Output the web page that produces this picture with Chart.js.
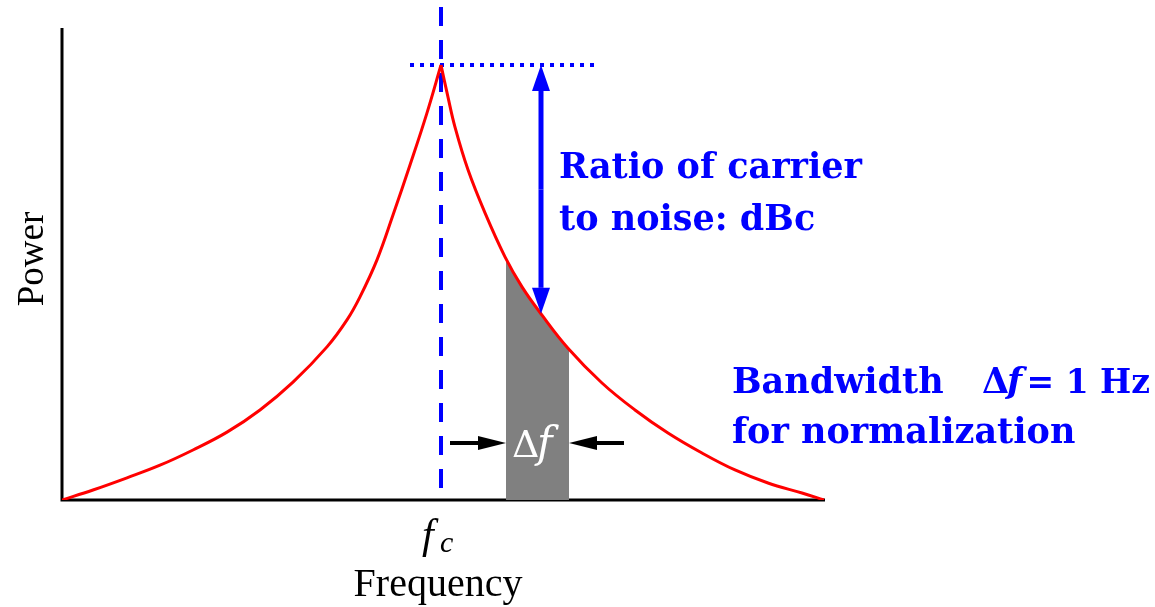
<!DOCTYPE html>
<html>
<head>
<meta charset="utf-8">
<script src="https://cdn.jsdelivr.net/npm/chart.js@4.4.1/dist/chart.umd.min.js"></script>
<style>
  html, body { margin: 0; padding: 0; background: #fff; }
  canvas { display: block; }
</style>
</head>
<body>
<canvas id="noiseChart" width="1155" height="607"></canvas>
<script>
// frequency offset from the carrier (fc = 0), arbitrary units; power in % of carrier peak
const leftFreq = [-3.79, -3.48, -3.14, -2.81, -2.48, -2.14, -1.81, -1.48, -1.14, -0.94, -0.81, -0.64, -0.48, -0.31, -0.14, 0];
const leftPower = [0, 2.3, 5.1, 8.0, 11.5, 15.6, 20.7, 27.1, 35.2, 41.4, 46.7, 55.2, 65.5, 77.0, 89.0, 100];
const rightFreq = [0, 0.07, 0.14, 0.27, 0.44, 0.64, 0.81, 1.01, 1.27, 1.61, 1.94, 2.27, 2.61, 2.94, 3.27, 3.61, 3.83];
const rightPower = [100, 92.6, 85.7, 75.9, 66.0, 55.9, 49.0, 42.5, 34.9, 26.9, 20.7, 15.4, 10.8, 6.9, 3.9, 1.6, 0];

// the 1 Hz slice that is shaded grey
const bandFreq = [0.65, 0.81, 1.01, 1.28];
const bandPower = [55.6, 49.0, 42.5, 34.7];

// guide lines
const carrierFreq = 0;
const carrierLineTop = 113.3;
const peakLineFreq = [-0.31, 1.56];
const peakPower = 100;

// dBc arrow and the two delta-f arrows
const dbcArrowFreq = 1.0;
const dbcArrowPower = [100, 42.8];
const bandArrowPower = 13.1;
const bandArrowLeft = [0.09, 0.65];
const bandArrowRight = [1.83, 1.28];

const toPoints = (xs, ys) => xs.map((x, i) => ({ x: x, y: ys[i] }));

function arrow(ctx, x1, y1, x2, y2, headLen, headHalf, width, color) {
    const ang = Math.atan2(y2 - y1, x2 - x1);
    const bx = x2 - Math.cos(ang) * headLen;
    const by = y2 - Math.sin(ang) * headLen;
    ctx.strokeStyle = color;
    ctx.fillStyle = color;
    ctx.lineWidth = width;
    ctx.lineCap = 'butt';
    ctx.beginPath();
    ctx.moveTo(x1, y1);
    ctx.lineTo(bx, by);
    ctx.stroke();
    ctx.beginPath();
    ctx.moveTo(x2, y2);
    ctx.lineTo(bx - Math.sin(ang) * headHalf, by + Math.cos(ang) * headHalf);
    ctx.lineTo(bx + Math.sin(ang) * headHalf, by - Math.cos(ang) * headHalf);
    ctx.closePath();
    ctx.fill();
}

const diagramPlugin = {
    id: 'diagram',
    beforeDatasetsDraw(chart) {
        const ctx = chart.ctx;
        const a = chart.chartArea;
        ctx.save();
        ctx.strokeStyle = '#000';
        ctx.lineWidth = 3;
        ctx.beginPath();
        ctx.moveTo(a.left, a.top);
        ctx.lineTo(a.left, a.bottom);
        ctx.lineTo(a.right, a.bottom);
        ctx.stroke();
        ctx.restore();
    },
    afterDatasetsDraw(chart) {
        const ctx = chart.ctx;
        const xs = chart.scales.x;
        const ys = chart.scales.y;
        ctx.save();

        // double arrow between carrier peak and noise level
        const ax = xs.getPixelForValue(dbcArrowFreq);
        const top = ys.getPixelForValue(dbcArrowPower[0]);
        const bot = ys.getPixelForValue(dbcArrowPower[1]);
        const mid = (top + bot) / 2;
        arrow(ctx, ax, mid, ax, top, 26, 9, 5, '#0000ff');
        arrow(ctx, ax, mid, ax, bot, 26, 9, 5, '#0000ff');

        // delta-f arrows
        const ay = ys.getPixelForValue(bandArrowPower);
        arrow(ctx, xs.getPixelForValue(bandArrowLeft[0]), ay, xs.getPixelForValue(bandArrowLeft[1]), ay, 28, 7, 4, '#000');
        arrow(ctx, xs.getPixelForValue(bandArrowRight[0]), ay, xs.getPixelForValue(bandArrowRight[1]), ay, 28, 7, 4, '#000');

        // delta f inside the band
        ctx.fillStyle = '#fff';
        ctx.textBaseline = 'alphabetic';
        ctx.textAlign = 'left';
        ctx.font = '38px "DejaVu Serif"';
        ctx.fillText('\u0394', 512, 457);
        ctx.font = 'italic 42px "DejaVu Serif"';
        ctx.fillText('f', 537, 457);

        // axis titles
        ctx.fillStyle = '#000';
        ctx.font = '40px "Liberation Serif"';
        ctx.textAlign = 'center';
        ctx.fillText('Frequency', 438, 596);
        ctx.save();
        ctx.translate(43, 259);
        ctx.rotate(-Math.PI / 2);
        ctx.font = '37px "Liberation Serif"';
        ctx.fillText('Power', 0, 0);
        ctx.restore();

        // f_c under the carrier
        ctx.textAlign = 'left';
        ctx.font = 'italic 42px "Liberation Serif"';
        ctx.fillText('f', 422, 548);
        ctx.font = 'italic 30px "Liberation Serif"';
        ctx.fillText('c', 440, 552);

        // blue notes
        ctx.fillStyle = '#0000ff';
        ctx.font = 'bold 35px "DejaVu Serif"';
        ctx.fillText('Ratio of carrier', 559, 178);
        ctx.fillText('to noise: dBc', 559, 230);
        ctx.fillText('Bandwidth', 732, 393);
        ctx.fillText('for normalization', 732, 443);
        ctx.fillText('\u0394', 982, 393);
        ctx.font = 'bold italic 35px "DejaVu Serif"';
        ctx.fillText('f', 1007, 393);
        ctx.font = 'bold 33px "DejaVu Serif"';
        ctx.textAlign = 'right';
        ctx.fillText('= 1 Hz', 1150, 393);

        ctx.restore();
    }
};

new Chart(document.getElementById('noiseChart'), {
    type: 'line',
    data: {
        datasets: [
            {
                data: toPoints(leftFreq, leftPower),
                borderColor: '#ff0000',
                borderWidth: 3,
                tension: 0.4,
                pointRadius: 0,
                order: 0
            },
            {
                data: toPoints(rightFreq, rightPower),
                borderColor: '#ff0000',
                borderWidth: 3,
                tension: 0.4,
                pointRadius: 0,
                order: 0
            },
            {
                data: [{ x: carrierFreq, y: carrierLineTop }, { x: carrierFreq, y: 0 }],
                borderColor: '#0000ff',
                borderWidth: 4,
                borderDash: [19, 14],
                pointRadius: 0,
                clip: false,
                order: 1
            },
            {
                data: [{ x: peakLineFreq[0], y: peakPower }, { x: peakLineFreq[1], y: peakPower }],
                borderColor: '#0000ff',
                borderWidth: 4,
                borderDash: [4, 6],
                pointRadius: 0,
                clip: false,
                order: 1
            },
            {
                data: toPoints(bandFreq, bandPower),
                borderWidth: 0,
                backgroundColor: '#808080',
                fill: 'origin',
                tension: 0.4,
                pointRadius: 0,
                order: 2
            }
        ]
    },
    options: {
        responsive: false,
        animation: false,
        layout: { padding: { left: 62, right: 330, top: 28, bottom: 107 } },
        plugins: { legend: { display: false }, tooltip: { enabled: false } },
        scales: {
            x: { type: 'linear', min: -3.79, max: 3.84, display: false },
            y: { min: 0, max: 108.5, display: false }
        }
    },
    plugins: [diagramPlugin]
});
</script>
</body>
</html>
